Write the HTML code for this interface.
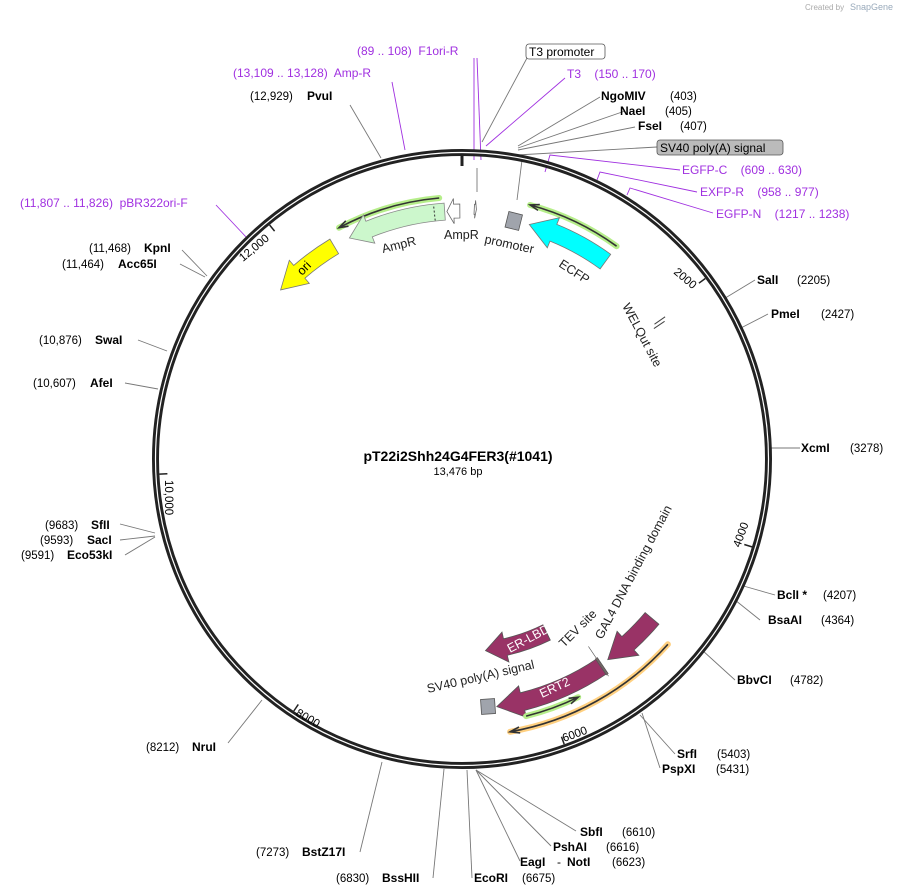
<!DOCTYPE html>
<html><head><meta charset="utf-8">
<style>
html,body{margin:0;padding:0;background:#fff;}
svg{display:block;font-family:"Liberation Sans","DejaVu Sans",sans-serif;}
text{white-space:pre}
.b{font-weight:bold;font-size:12px;fill:#000}
.n{font-size:11.5px;fill:#000}
.p{font-size:12px;fill:#a030e0}
.f{font-size:12.5px;fill:#222}
.l{stroke:#777;stroke-width:0.9;fill:none}
.pl{stroke:#a030e0;stroke-width:0.9;fill:none}
</style></head><body>
<svg id="s" width="903" height="896" viewBox="0 0 903 896" xmlns="http://www.w3.org/2000/svg" xml:space="preserve">
<text x="805" y="10" font-size="8" fill="#aaa">Created by</text><text x="850" y="10" font-size="9" fill="#9ab">SnapGene</text>
<g id="lines">
<path class="l" d="M381 158 L350 105"/>
<path class="pl" d="M405 150 L392 82"/>
<path class="pl" d="M474 160 L474 58"/>
<path class="pl" d="M481 160 L477 58"/>
<path class="l" d="M482 142 L527 58"/>
<path class="pl" d="M486 146 L565 78"/>
<path class="l" d="M518 146 L600 97"/>
<path class="l" d="M518 148 L625 111"/>
<path class="l" d="M518 150 L635 127"/>
<path class="l" d="M517 155 L657 147"/>
<path class="pl" d="M545 172 L550 155 L680 170"/>
<path class="pl" d="M597 180 L600 172 L697 192"/>
<path class="pl" d="M627 195 L630 188 L713 213"/>
<path class="pl" d="M247 238 L216 205"/>
<path class="l" d="M207 276 L182 250"/>
<path class="l" d="M205 277 L180 264"/>
<path class="l" d="M167 351 L138 340"/>
<path class="l" d="M158 389 L125 383"/>
<path class="l" d="M155 533 L120 524"/>
<path class="l" d="M155 536 L120 540"/>
<path class="l" d="M155 537 L125 555"/>
<path class="l" d="M262 700 L228 743"/>
<path class="l" d="M382 762 L360 852"/>
<path class="l" d="M444 769 L433 878"/>
<path class="l" d="M467 770 L472 878"/>
<path class="l" d="M476 770 L576 831"/>
<path class="l" d="M476 770 L551 846"/>
<path class="l" d="M476 770 L520 861"/>
<path class="l" d="M640 715 L675 754"/>
<path class="l" d="M642 713 L660 768"/>
<path class="l" d="M702 650 L735 680"/>
<path class="l" d="M735 600 L760 620"/>
<path class="l" d="M740 585 L775 595"/>
<path class="l" d="M770 448 L800 448"/>
<path class="l" d="M737 330 L768 314"/>
<path class="l" d="M722 300 L755 280"/>
<path class="l" d="M477 192 L477 168"/>
<path class="l" d="M517 200 L522 160"/>
</g>
<circle cx="462" cy="459" r="306.5" fill="none" stroke="#222" stroke-width="7"/>
<circle cx="462" cy="459" r="306.5" fill="none" stroke="#fff" stroke-width="1.2"/>
<g id="feat"></g>
<text class="n" x="250" y="100">(12,929)</text><text class="b" x="307" y="100">PvuI</text>
<text class="p" x="233" y="77">(13,109 .. 13,128)  Amp-R</text>
<text class="p" x="357" y="55">(89 .. 108)  F1ori-R</text>
<rect x="526" y="44" width="79" height="15" rx="3" fill="#fff" stroke="#555" stroke-width="0.8"/>
<text x="529" y="56" font-size="12" fill="#000">T3 promoter</text>
<text class="p" x="567" y="78">T3    (150 .. 170)</text>
<text class="b" x="601" y="100">NgoMIV</text><text class="n" x="670" y="100">(403)</text>
<text class="b" x="620" y="115">NaeI</text><text class="n" x="665" y="115">(405)</text>
<text class="b" x="638" y="130">FseI</text><text class="n" x="680" y="130">(407)</text>
<rect x="657" y="140" width="126" height="15" rx="3" fill="#bbb" stroke="#555" stroke-width="0.8"/>
<text x="660" y="152" font-size="12" fill="#000">SV40 poly(A) signal</text>
<text class="p" x="682" y="174">EGFP-C    (609 .. 630)</text>
<text class="p" x="700" y="196">EXFP-R    (958 .. 977)</text>
<text class="p" x="716" y="218">EGFP-N    (1217 .. 1238)</text>
<text class="p" x="20" y="207">(11,807 .. 11,826)  pBR322ori-F</text>
<text class="n" x="89" y="252">(11,468)</text><text class="b" x="144" y="252">KpnI</text>
<text class="n" x="62" y="268">(11,464)</text><text class="b" x="118" y="268">Acc65I</text>
<text class="n" x="39" y="344">(10,876)</text><text class="b" x="95" y="344">SwaI</text>
<text class="n" x="33" y="387">(10,607)</text><text class="b" x="90" y="387">AfeI</text>
<text class="n" x="45" y="529">(9683)</text><text class="b" x="91" y="529">SfII</text>
<text class="n" x="40" y="544">(9593)</text><text class="b" x="87" y="544">SacI</text>
<text class="n" x="21" y="559">(9591)</text><text class="b" x="67" y="559">Eco53kI</text>
<text class="n" x="146" y="751">(8212)</text><text class="b" x="192" y="751">NruI</text>
<text class="n" x="256" y="856">(7273)</text><text class="b" x="302" y="856">BstZ17I</text>
<text class="n" x="336" y="882">(6830)</text><text class="b" x="382" y="882">BssHII</text>
<text class="b" x="474" y="882">EcoRI</text><text class="n" x="522" y="882">(6675)</text>
<text class="b" x="520" y="866">EagI</text><text x="557" y="866" font-size="12">-</text><text class="b" x="567" y="866">NotI</text><text class="n" x="612" y="866">(6623)</text>
<text class="b" x="553" y="851">PshAI</text><text class="n" x="606" y="851">(6616)</text>
<text class="b" x="580" y="836">SbfI</text><text class="n" x="622" y="836">(6610)</text>
<text class="b" x="677" y="758">SrfI</text><text class="n" x="717" y="758">(5403)</text>
<text class="b" x="662" y="773">PspXI</text><text class="n" x="716" y="773">(5431)</text>
<text class="b" x="737" y="684">BbvCI</text><text class="n" x="790" y="684">(4782)</text>
<text class="b" x="768" y="624">BsaAI</text><text class="n" x="821" y="624">(4364)</text>
<text class="b" x="777" y="599">BclI *</text><text class="n" x="823" y="599">(4207)</text>
<text class="b" x="801" y="452">XcmI</text><text class="n" x="850" y="452">(3278)</text>
<text class="b" x="771" y="318">PmeI</text><text class="n" x="821" y="318">(2427)</text>
<text class="b" x="757" y="284">SalI</text><text class="n" x="797" y="284">(2205)</text>
<text x="458" y="461" font-size="14" font-weight="bold" text-anchor="middle">pT22i2Shh24G4FER3(#1041)</text>
<text x="458" y="475" font-size="11" text-anchor="middle">13,476 bp</text>
<text class="f" transform="translate(383,253) rotate(-14)">AmpR</text>
<text class="f" transform="translate(444,239) rotate(0)">AmpR</text>
<text class="f" transform="translate(484,243) rotate(12)">promoter</text>
<text class="f" transform="translate(558,266) rotate(33)">ECFP</text>
<text font-size="12.5" fill="#000" transform="translate(302,276) rotate(-45)">ori</text>
<text class="f" transform="translate(622,306) rotate(62)">WELQut site</text>
<text class="f" transform="translate(602,640) rotate(-62)">GAL4 DNA binding domain</text>
<text class="f" transform="translate(564,648) rotate(-45)">TEV site</text>
<text class="f" transform="translate(428,693) rotate(-13)">SV40 poly(A) signal</text>
<text font-size="12.5" fill="#fff" transform="translate(510,653) rotate(-28)">ER-LBD</text>
<text font-size="12.5" fill="#fff" transform="translate(542,698) rotate(-25)">ERT2</text>
<text class="n" transform="translate(673,273) rotate(40)">2000</text>
<text class="n" transform="translate(740,548) rotate(-70)">4000</text>
<text class="n" transform="translate(564,742) rotate(-20)">6000</text>
<text class="n" transform="translate(295,715) rotate(30)">8000</text>
<text class="n" transform="translate(165,480) rotate(90)">10,000</text>
<text class="n" transform="translate(243,262) rotate(-40)">12,000</text>
</svg>
<script>
(function(){
var cx=462,cy=459,NS="http://www.w3.org/2000/svg",g=document.getElementById("feat");
function P(r,a){var t=a*Math.PI/180;return (cx+r*Math.sin(t)).toFixed(1)+" "+(cy-r*Math.cos(t)).toFixed(1);}
function add(tag,at){var e=document.createElementNS(NS,tag);for(var k in at)e.setAttribute(k,at[k]);g.appendChild(e);return e;}
function arrow(r,a1,a2,w,hl,fill,stroke){
 var d=a2>a1?1:-1,neck=a2-d*hl,ro=r+w/2,ri=r-w/2,s=d>0?1:0,hw=w*0.4;
 var p="M"+P(ro,a1)+" A"+ro+" "+ro+" 0 0 "+s+" "+P(ro,neck)+" L"+P(ro+hw,neck)+" L"+P(r,a2)+" L"+P(ri-hw,neck)+" L"+P(ri,neck)+" A"+ri+" "+ri+" 0 0 "+(1-s)+" "+P(ri,a1)+" Z";
 add("path",{d:p,fill:fill,stroke:stroke,"stroke-width":0.8});
}
function line(r,a1,a2,glow){
 var d=a2>a1?1:-1,s=d>0?1:0,p="M"+P(r,a1)+" A"+r+" "+r+" 0 0 "+s+" "+P(r,a2);
 add("path",{d:p,fill:"none",stroke:glow,"stroke-width":6,"stroke-linecap":"round"});
 add("path",{d:p,fill:"none",stroke:"#333","stroke-width":1.6});
 var n=a2-d*2;
 add("path",{d:"M"+P(r+3,n)+" L"+P(r,a2)+" L"+P(r-3,n),fill:"none",stroke:"#333","stroke-width":1.6});
}
function tick(a,len,w){add("path",{d:"M"+P(303,a)+" L"+P(303-len,a),stroke:"#222","stroke-width":w});}
tick(0,10,3);[2000,4000,6000,8000,10000,12000].forEach(function(v){tick(v/13476*360,8,1.5);});
line(262,-5,-28,"#b6ee8a");
arrow(248,-4,-27,17,5,"#ccf7cc","#888");
add("path",{d:"M"+P(240,-6.4)+" L"+P(256,-6.4),stroke:"#333","stroke-width":1,"stroke-dasharray":"2,2"});
arrow(248,-0.5,-3.5,14,1.6,"#fff","#666");
arrow(250,2.8,3.3,10,0.3,"#fff","#666");
arrow(248,-31,-47,17,6,"#ffff00","#777");
line(263,36,15,"#b6ee8a");
arrow(244,36,16,18,6,"#00ffff","#777");
add("rect",{x:-7,y:-7,width:14,height:16,fill:"#a0a4ac",stroke:"#555","stroke-width":0.8,transform:"translate(514,220) rotate(14)"});
add("path",{d:"M"+P(235,55)+" L"+P(248,55),stroke:"#444","stroke-width":1});
add("path",{d:"M"+P(232,55.8)+" L"+P(245,55.8),stroke:"#444","stroke-width":1});
arrow(248,130,144,18,6,"#993366","#555");
arrow(250,146,172,18,6,"#993366","#555");
arrow(193,154,173,17,6,"#993366","#555");
add("path",{d:"M"+P(240,146)+" L"+P(260,146),stroke:"#555","stroke-width":3});
add("path",{d:"M"+P(240,146)+" L"+P(260,146),stroke:"#c99","stroke-width":1});
add("path",{d:"M"+P(226,146)+" L"+P(262,146),stroke:"#555","stroke-width":0.6});
add("rect",{x:-7,y:-7,width:14,height:15,fill:"#a0a4ac",stroke:"#555","stroke-width":0.8,transform:"translate(488,706) rotate(-4)"});
line(265,166,154,"#b6ee8a");
line(277,132,170,"#ffd080");
})();
</script>
</body></html>
